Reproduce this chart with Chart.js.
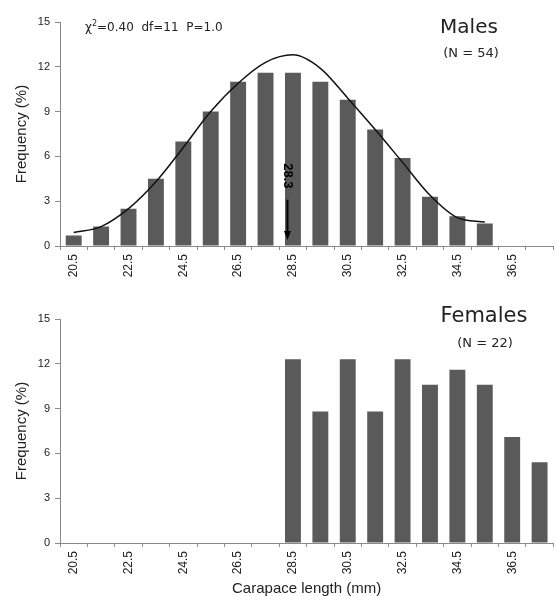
<!DOCTYPE html>
<html><head><meta charset="utf-8">
<script src="https://cdn.jsdelivr.net/npm/chart.js@4.4.1/dist/chart.umd.min.js"></script>
<style>
html,body{margin:0;padding:0;background:#fff;}
#wrap{position:relative;width:558px;height:596px;overflow:hidden;background:#fff;}
canvas{position:absolute;left:0;}
.t{position:absolute;font-family:"DejaVu Sans",sans-serif;color:#222;white-space:nowrap;text-align:center;}
</style></head><body>
<div id="wrap">
<canvas id="c1" width="558" height="290" style="top:0px"></canvas>
<canvas id="c2" width="558" height="306" style="top:290px"></canvas>
<div class="t" style="left:85px;top:20px;font-size:12px;line-height:14px;text-align:left;">χ<span style="font-size:8px;position:relative;top:-5px;">2</span>=0.40&nbsp;&nbsp;df=11&nbsp;&nbsp;P=1.0</div>
<div class="t" style="left:419px;width:100px;top:16px;font-size:20px;line-height:20px;">Males</div>
<div class="t" style="left:421px;width:100px;top:46px;font-size:13px;line-height:13px;">(N = 54)</div>
<div class="t" style="left:434px;width:100px;top:305px;font-size:21px;line-height:21px;">Females</div>
<div class="t" style="left:435px;width:100px;top:336px;font-size:13px;line-height:13px;">(N = 22)</div>
</div>
<script>
// ---- data ----
const categories = ['20.5','21.5','22.5','23.5','24.5','25.5','26.5','27.5','28.5','29.5','30.5','31.5','32.5','33.5','34.5','35.5','36.5','37.5'];
const tickLabels = ['20.5','22.5','24.5','26.5','28.5','30.5','32.5','34.5','36.5'];
const yTicks = [0,3,6,9,12,15];
const malesFreq = [0.7,1.3,2.5,4.5,7.0,9.0,11.0,11.6,11.6,11.0,9.8,7.8,5.9,3.3,2.0,1.5,null,null];
const malesNormalFit = [0.9,1.3,2.5,4.3,6.6,9.0,10.9,12.3,12.8,11.9,9.9,7.8,5.6,3.4,1.9,1.6,null,null];
const femalesFreq = [null,null,null,null,null,null,null,null,12.3,8.8,12.3,8.8,12.3,10.6,11.6,10.6,7.1,5.4];
const malesMean = 28.3;
const meanArrowFrom = 3.1, meanArrowTo = 0.4, meanLabelAt = 4.7;

// ---- styles ----
const BAR = '#5a5a5a', AXIS = '#8a8a8a', TXT = '#222';
const SANS = '"Liberation Sans", Arial, sans-serif';

const meanArrow = {
  id: 'meanArrow',
  afterDatasetsDraw(chart) {
    const xs = chart.scales.x, ys = chart.scales.y, ctx = chart.ctx;
    const idx = (malesMean - parseFloat(categories[0])) / (parseFloat(categories[1]) - parseFloat(categories[0]));
    const x = xs.getPixelForValue(idx);
    const y1 = ys.getPixelForValue(meanArrowFrom), y2 = ys.getPixelForValue(meanArrowTo);
    ctx.save();
    ctx.strokeStyle = '#000'; ctx.fillStyle = '#000'; ctx.lineWidth = 2;
    ctx.beginPath(); ctx.moveTo(x, y1); ctx.lineTo(x, y2 - 7); ctx.stroke();
    ctx.beginPath(); ctx.moveTo(x - 3.5, y2 - 9); ctx.lineTo(x + 3.5, y2 - 9); ctx.lineTo(x, y2); ctx.closePath(); ctx.fill();
    ctx.translate(x, ys.getPixelForValue(meanLabelAt));
    ctx.rotate(Math.PI / 2);
    ctx.font = 'bold 13px ' + SANS;
    ctx.textAlign = 'center'; ctx.textBaseline = 'middle';
    ctx.fillText(malesMean.toFixed(1), 0, 0);
    ctx.restore();
  }
};

function makeChart(id, datasets, padTop, xHeight, xTitle, plugins) {
  return new Chart(document.getElementById(id), {
    type: 'bar',
    data: { labels: categories, datasets },
    options: {
      responsive: false, animation: false, devicePixelRatio: 1,
      layout: { padding: { top: padTop, left: 13, right: 0, bottom: 0 } },
      plugins: { legend: { display: false }, tooltip: { enabled: false } },
      scales: {
        x: {
          grid: { display: true, drawOnChartArea: false, offset: true, tickLength: 4, color: AXIS },
          border: { display: true, color: AXIS, width: 1 },
          ticks: {
            autoSkip: false, minRotation: 90, maxRotation: 90, padding: 4, color: TXT,
            font: { family: SANS, size: 12 },
            callback: (v, i) => tickLabels.includes(categories[i]) ? categories[i] : ''
          },
          title: { display: !!xTitle, text: xTitle || '', color: TXT, font: { family: SANS, size: 15, lineHeight: 1.0 }, padding: 0 },
          afterFit: s => { s.height = xHeight; }
        },
        y: {
          min: 0, max: 15,
          afterBuildTicks: s => { s.ticks = yTicks.map(v => ({ value: v })); },
          grid: { display: true, drawOnChartArea: false, tickLength: 5, color: AXIS },
          border: { display: true, color: AXIS, width: 1 },
          ticks: { padding: 5, color: TXT, font: { family: SANS, size: 11 } },
          title: { display: true, text: 'Frequency (%)', color: TXT, font: { family: SANS, size: 15, lineHeight: 1.2 }, padding: 0 },
          afterFit: s => { s.width = 47; }
        }
      }
    },
    plugins: plugins || []
  });
}

makeChart('c1', [
  { type: 'line', data: malesNormalFit, borderColor: '#111', borderWidth: 1.5, pointRadius: 0, cubicInterpolationMode: 'monotone', fill: false, spanGaps: false, order: 0 },
  { type: 'bar', data: malesFreq, backgroundColor: BAR, barPercentage: 0.58, categoryPercentage: 1.0, order: 1 }
], 22, 44, null, [meanArrow]);

makeChart('c2', [
  { type: 'bar', data: femalesFreq, backgroundColor: BAR, barPercentage: 0.58, categoryPercentage: 1.0 }
], 29, 53, 'Carapace length (mm)');
</script>
</body></html>
